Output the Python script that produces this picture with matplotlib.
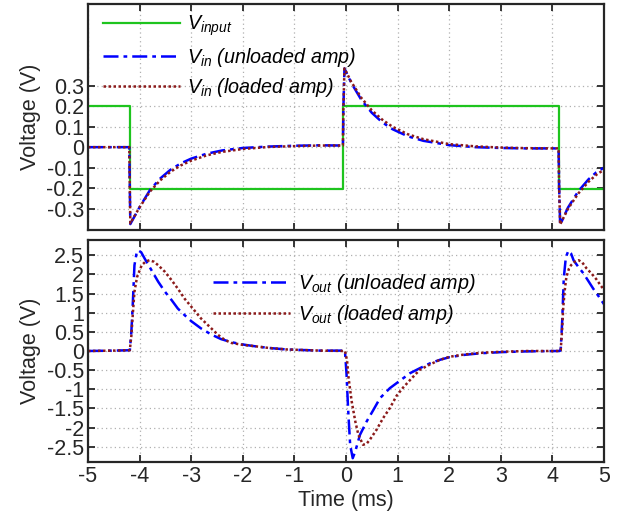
import matplotlib
matplotlib.use("Agg")
import matplotlib.pyplot as plt

plt.rcParams['font.family'] = ['Liberation Sans', 'DejaVu Sans']
plt.rcParams['mathtext.fontset'] = 'custom'
plt.rcParams['mathtext.rm'] = 'Liberation Sans'
plt.rcParams['mathtext.it'] = 'Liberation Sans:italic'
plt.rcParams['axes.unicode_minus'] = False

# ---------------- data ----------------
t_input = [-5.0, -4.19, -4.19, -0.05, -0.05, 4.13, 4.13, 5.0]
v_input = [0.2, 0.2, -0.205, -0.205, 0.2, 0.2, -0.205, -0.205]

t_in = [-5.0, -4.20, -4.19, -4.18, -4.0, -3.8, -3.6, -3.4, -3.2, -3.0, -2.7, -2.4,
        -2.0, -1.5, -1.0, -0.5, -0.06, -0.05, -0.03, 0.1, 0.3, 0.5, 0.7, 0.9, 1.2,
        1.5, 2.0, 2.5, 3.0, 3.5, 4.12, 4.13, 4.15, 4.3, 4.5, 4.7, 4.85, 5.0]
v_in_unloaded = [0.0, 0.0, -0.2, -0.376, -0.293, -0.210, -0.153, -0.110, -0.079, -0.056,
                 -0.032, -0.016, -0.004, 0.003, 0.007, 0.009, 0.008, 0.2, 0.385, 0.315,
                 0.230, 0.168, 0.122, 0.088, 0.053, 0.031, 0.010, 0.0, -0.004, -0.006,
                 -0.006, -0.2, -0.38, -0.296, -0.216, -0.157, -0.123, -0.100]
v_in_loaded = [0.0, 0.0, -0.2, -0.372, -0.294, -0.217, -0.162, -0.120, -0.089, -0.066,
               -0.040, -0.023, -0.009, 0.001, 0.005, 0.008, 0.008, 0.2, 0.385, 0.320,
               0.240, 0.180, 0.135, 0.100, 0.063, 0.039, 0.015, 0.004, -0.002, -0.005,
               -0.006, -0.2, -0.378, -0.302, -0.227, -0.169, -0.135, -0.110]

t_out_unloaded = [-5.0, -4.5, -4.19, -4.16, -4.13, -4.10, -4.06, -4.03, -3.97, -3.90,
                  -3.77, -3.64, -3.51, -3.38, -3.26, -3.13, -3.0, -2.81, -2.61, -2.42,
                  -2.22, -2.0, -1.8, -1.5, -1.15, -0.5, -0.05,
                  -0.02, 0.01, 0.04, 0.08, 0.13, 0.18, 0.27, 0.40, 0.53, 0.66, 0.85, 1.0,
                  1.24, 1.43, 1.63, 1.82, 2.01, 2.3, 2.6, 3.0, 3.5, 4.14,
                  4.16, 4.19, 4.22, 4.26, 4.31, 4.36, 4.41, 4.50, 4.60, 4.70, 4.79, 4.90, 5.0]
v_out_unloaded = [0.0, 0.01, 0.02, 0.5, 1.3, 2.24, 2.55, 2.63, 2.58, 2.41,
                  2.11, 1.81, 1.55, 1.33, 1.11, 0.94, 0.78, 0.59, 0.43, 0.31,
                  0.23, 0.17, 0.13, 0.08, 0.04, 0.01, 0.01,
                  -0.01, -0.6, -1.5, -2.45, -2.8, -2.62, -2.19, -1.84, -1.54, -1.23, -0.97, -0.82,
                  -0.58, -0.45, -0.32, -0.23, -0.16, -0.1, -0.06, -0.03, -0.01, 0.0,
                  0.02, 0.8, 1.9, 2.45, 2.62, 2.55, 2.37, 2.2, 2.03, 1.82, 1.63, 1.42, 1.22]

t_out_loaded = [-5.0, -4.5, -4.19, -4.16, -4.13, -4.10, -4.05, -3.96, -3.88, -3.81,
                -3.72, -3.64, -3.51, -3.38, -3.26, -3.13, -3.0, -2.81, -2.61, -2.48,
                -2.35, -2.22, -2.0, -1.8, -1.5, -1.15, -0.5, -0.05,
                -0.02, 0.02, 0.05, 0.11, 0.18, 0.24, 0.33, 0.40, 0.46, 0.59, 0.72, 0.85,
                0.98, 1.11, 1.24, 1.43, 1.63, 1.82, 2.01, 2.3, 2.6, 3.0, 3.5, 4.14,
                4.16, 4.19, 4.21, 4.24, 4.27, 4.32, 4.36, 4.43, 4.51, 4.58, 4.66, 4.76,
                4.86, 4.93, 5.0]
v_out_loaded = [0.0, 0.01, 0.02, 0.4, 1.0, 1.55, 1.93, 2.24, 2.34, 2.37,
                2.33, 2.24, 2.07, 1.85, 1.63, 1.37, 1.16, 0.85, 0.59, 0.42,
                0.29, 0.21, 0.16, 0.13, 0.08, 0.04, 0.01, 0.0,
                0.0, -0.25, -0.71, -1.32, -1.84, -2.19, -2.45, -2.42, -2.32, -2.06, -1.75, -1.49,
                -1.17, -0.95, -0.76, -0.49, -0.35, -0.23, -0.15, -0.09, -0.05, -0.02, 0.0, 0.0,
                0.02, 0.6, 1.15, 1.6, 1.93, 2.15, 2.24, 2.33, 2.37, 2.31, 2.16, 2.02,
                1.86, 1.72, 1.6]

x_ticks = [-5, -4, -3, -2, -1, 0, 1, 2, 3, 4, 5]
x_tick_labels = ['-5', '-4', '-3', '-2', '-1', '0', '1', '2', '3', '4', '5']
top_y_ticks = [-0.3, -0.2, -0.1, 0, 0.1, 0.2, 0.3]
top_y_labels = ['-0.3', '-0.2', '-0.1', '0', '0.1', '0.2', '0.3']
bot_y_ticks = [-2.5, -2, -1.5, -1, -0.5, 0, 0.5, 1, 1.5, 2, 2.5]
bot_y_labels = ['-2.5', '-2', '-1.5', '-1', '-0.5', '0', '0.5', '1', '1.5', '2', '2.5']

GREEN = '#1ec41e'
BLUE = '#0000ff'
RED = '#8b1a1a'

fig = plt.figure(figsize=(6.22, 5.20), dpi=100)
ax1 = fig.add_axes([0.1415, 0.5577, 0.8296, 0.4346])
ax2 = fig.add_axes([0.1415, 0.1115, 0.8296, 0.4270])

ax1.plot(t_input, v_input, color=GREEN, lw=1.6, label=r'$V_{input}$')
ax1.plot(t_in, v_in_unloaded, color=BLUE, lw=1.8, ls=(0, (6, 2, 1.5, 2)),
         label=r'$V_{in}$ (unloaded amp)')
ax1.plot(t_in, v_in_loaded, color=RED, lw=1.8, ls=(0, (1, 1)),
         label=r'$V_{in}$ (loaded amp)')

ax2.plot(t_out_unloaded, v_out_unloaded, color=BLUE, lw=1.8, ls=(0, (6, 2, 1.5, 2)),
         label=r'$V_{out}$ (unloaded amp)')
ax2.plot(t_out_loaded, v_out_loaded, color=RED, lw=1.8, ls=(0, (1, 1)),
         label=r'$V_{out}$ (loaded amp)')

ax1.set_ylim(-0.405, 0.70)
ax2.set_ylim(-2.9, 2.9)
for ax in (ax1, ax2):
    ax.set_xlim(-5, 5)
    ax.set_xticks(x_ticks)
    ax.grid(True, ls=(0, (1, 2.5)), color='#b0b0b0', lw=0.9)
    ax.tick_params(direction='in', top=True, right=True, length=5, width=1.3,
                   labelsize=15.5, colors='#262626', pad=3)
    for s in ax.spines.values():
        s.set_linewidth(1.6)
        s.set_color('#262626')
    ax.set_ylabel('Voltage (V)', fontsize=15.5, color='#262626')

ax1.set_xticklabels([])
ax1.set_yticks(top_y_ticks)
ax1.set_yticklabels(top_y_labels)
ax2.set_xticklabels(x_tick_labels)
ax2.set_yticks(bot_y_ticks)
ax2.set_yticklabels(bot_y_labels)
ax2.set_xlabel('Time (ms)', fontsize=15.5, color='#262626', labelpad=2)
ax1.yaxis.set_label_coords(-0.092, 0.5)
ax2.yaxis.set_label_coords(-0.092, 0.5)

leg_font = {'family': 'Liberation Sans', 'style': 'italic', 'size': 14.2}
ax1.legend(loc='upper left', bbox_to_anchor=(-0.006, 1.035), frameon=False, prop=leg_font,
           handlelength=3.9, labelspacing=0.38, handletextpad=0.4)
ax2.legend(loc='upper left', bbox_to_anchor=(0.208, 0.935), frameon=False, prop=leg_font,
           handlelength=3.9, labelspacing=0.38, handletextpad=0.4)

fig.savefig('out.png', dpi=100)
